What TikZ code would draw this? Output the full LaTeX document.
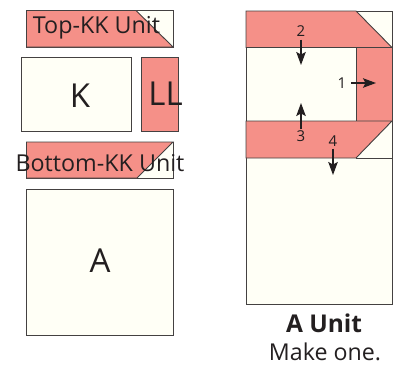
\documentclass[tikz,border=0pt]{standalone}
\usepackage{fontspec}
\setmainfont{Open Sans}
\usetikzlibrary{arrows.meta}
\definecolor{cream}{HTML}{FFFFF6}
\definecolor{salmon}{HTML}{F59088}
\definecolor{ink}{HTML}{231F20}
\tikzset{
  x=1pt,y=-1pt,
  piece/.style={draw=ink!85!white,line width=0.9pt,line join=miter},
  creampiece/.style={piece,fill=cream},
  redpiece/.style={piece,fill=salmon},
  lbl/.style={text=ink,inner sep=0pt,anchor=center},
  big/.style={lbl,font=\fontsize{33}{33}\selectfont},
  unit/.style={lbl,font=\fontsize{23.3}{24}\selectfont},
  num/.style={lbl,font=\fontsize{15}{15}\selectfont},
  capt/.style={lbl,font=\fontsize{23.2}{24}\selectfont},
  arr/.style={draw=ink,line width=1.2pt,-{Stealth[length=13pt,width=9.5pt,inset=2.5pt]}}
}
\begin{document}
\begin{tikzpicture}
\useasboundingbox (0,0) rectangle (395,364);
% Top-KK unit
\draw[creampiece] (26.5,10.5) rectangle (173,47);
\draw[redpiece] (26.5,10.5) -- (136,10.5) -- (173,47) -- (26.5,47) -- cycle;
% K and LL
\draw[creampiece] (21.5,57.5) rectangle (131.5,131);
\draw[redpiece] (141.5,57.5) rectangle (178.5,131);
% Bottom-KK unit
\draw[creampiece] (26.5,142) rectangle (173,178);
\draw[redpiece] (26.5,142) -- (173,142) -- (137,178) -- (26.5,178) -- cycle;
% A
\draw[creampiece] (26.5,189) rectangle (173,335);
% A unit
\draw[creampiece] (246,11) rectangle (392,304.5);
\draw[redpiece] (246,11) -- (356,11) -- (392,47.5) -- (246,47.5) -- cycle;
\draw[redpiece] (356,47.5) rectangle (392,121);
\draw[redpiece] (246,121) -- (392,121) -- (356,158) -- (246,158) -- cycle;
\draw[piece] (356,158) -- (392,158);
% labels
\node[unit] (topkk) at (96.5,28) {Top-KK Unit};
\node[big] (k) at (80,96) {K};
\node[big] (ll) at (165.5,94) {LL};
\node[unit] (botkk) at (100,163) {Bottom-KK Unit};
\node[big] (a) at (100,261) {A};
\node[num] (n2) at (301,31) {2};
\node[num] (n1) at (342,83) {1};
\node[num] (n3) at (301,136) {3};
\node[num] (n4) at (333,141) {4};
\node[capt,font=\fontsize{24.5}{25}\selectfont\bfseries] (aunit) at (324,323) {A Unit};
\node[capt] (make) at (325,352) {Make one.};
% arrows
\coordinate (e2) at (301,65);
\coordinate (e1) at (376,83);
\coordinate (e3) at (301,103);
\coordinate (e4) at (333,175);
\draw[arr] (n2.south) ++(0,3) -- (e2);
\draw[arr] (n1.east) ++(5,0) -- (e1);
\draw[arr] (n3.north) ++(0,-1) -- (e3);
\draw[arr] (n4.south) ++(0,2) -- (e4);
\end{tikzpicture}
\end{document}
